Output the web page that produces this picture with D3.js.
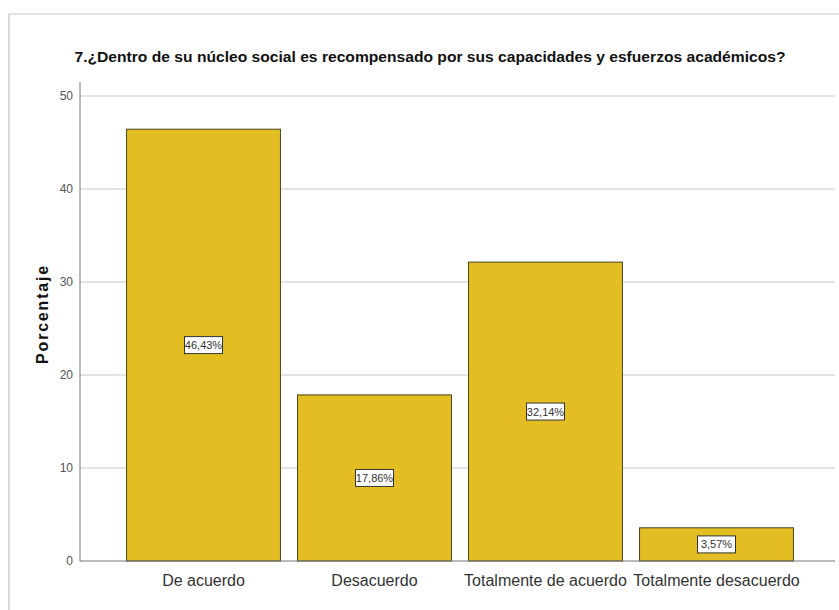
<!DOCTYPE html>
<html><head><meta charset="utf-8">
<script src="https://cdn.jsdelivr.net/npm/d3@7"></script>
<style>body{margin:0;background:#fff}svg{display:block}</style>
</head><body>
<svg id="c" width="839" height="610"></svg>
<script>
const categories = ["De acuerdo", "Desacuerdo", "Totalmente de acuerdo", "Totalmente desacuerdo"];
const values = [46.43, 17.86, 32.14, 3.57];
const valueLabels = ["46,43%", "17,86%", "32,14%", "3,57%"];
const yTicks = [0, 10, 20, 30, 40, 50];
const title = "7.¿Dentro de su núcleo social es recompensado por sus capacidades y esfuerzos académicos?";
const yTitle = "Porcentaje";

const svg = d3.select("#c");
const narrow = "'Liberation Sans Narrow','Arial Narrow','Liberation Sans',Arial,sans-serif";

// frame
svg.append("line").attr("x1",9).attr("x2",839).attr("y1",14).attr("y2",14).attr("stroke","#ddd").attr("stroke-width",1.5);
svg.append("line").attr("x1",9).attr("x2",9).attr("y1",14).attr("y2",610).attr("stroke","#ccc").attr("stroke-width",1.5);

const y = d3.scaleLinear().domain([0,50]).range([561,96]);
const x = d3.scaleBand().domain(categories).range([118,802]).paddingInner(0.1).paddingOuter(0.05);

// gridlines
svg.append("g").selectAll("line").data(yTicks.filter(d=>d>0)).join("line")
  .attr("x1",80).attr("x2",835).attr("y1",d=>y(d)).attr("y2",d=>y(d))
  .attr("stroke","#c8c8c8").attr("stroke-width",1);

// y axis
const yAxis = svg.append("g").attr("transform","translate(80,0)")
  .call(d3.axisLeft(y).tickValues(yTicks).tickSize(0).tickPadding(7));
yAxis.select(".domain").attr("stroke","#777").attr("d","M0,82V561");
yAxis.selectAll("text").attr("font-family",narrow).attr("font-size",12).attr("fill","#555");

// bars
svg.append("g").selectAll("rect").data(values).join("rect")
  .attr("x",(d,i)=>x(categories[i])).attr("width",x.bandwidth())
  .attr("y",d=>y(d)).attr("height",d=>y(0)-y(d))
  .attr("fill","#E2BE22").attr("stroke","#4a4220").attr("stroke-width",1);

// x axis
const xAxis = svg.append("g").attr("transform","translate(0,561)")
  .call(d3.axisBottom(x).tickSize(0).tickPadding(14));
xAxis.select(".domain").attr("stroke","#777").attr("d","M80,0H835");
xAxis.selectAll("text").attr("font-family",narrow).attr("font-size",16).attr("fill","#333");

// value labels
const lg = svg.append("g").selectAll("g").data(values).join("g")
  .attr("transform",(d,i)=>`translate(${x(categories[i])+x.bandwidth()/2},${(y(d)+y(0))/2})`);
lg.append("rect").attr("x",-19).attr("y",-8.5).attr("width",38).attr("height",17)
  .attr("fill","#fff").attr("stroke","#333").attr("stroke-width",1);
lg.append("text").text((d,i)=>valueLabels[i]).attr("text-anchor","middle").attr("dy","0.36em")
  .attr("font-family",narrow).attr("font-size",11).attr("fill","#333");

// title
svg.append("text").attr("x",430).attr("y",62).attr("text-anchor","middle")
  .attr("font-family",narrow).attr("font-weight","bold").attr("font-size",15.5).attr("fill","#111")
  .attr("textLength",711).attr("lengthAdjust","spacingAndGlyphs").text(title);

// y title
svg.append("text").attr("transform","translate(48,314) rotate(-90)").attr("text-anchor","middle")
  .attr("font-family","'Liberation Sans',Arial,sans-serif").attr("font-weight","bold").attr("font-size",16)
  .attr("letter-spacing",1.8).attr("fill","#111").text(yTitle);
</script>
</body></html>
